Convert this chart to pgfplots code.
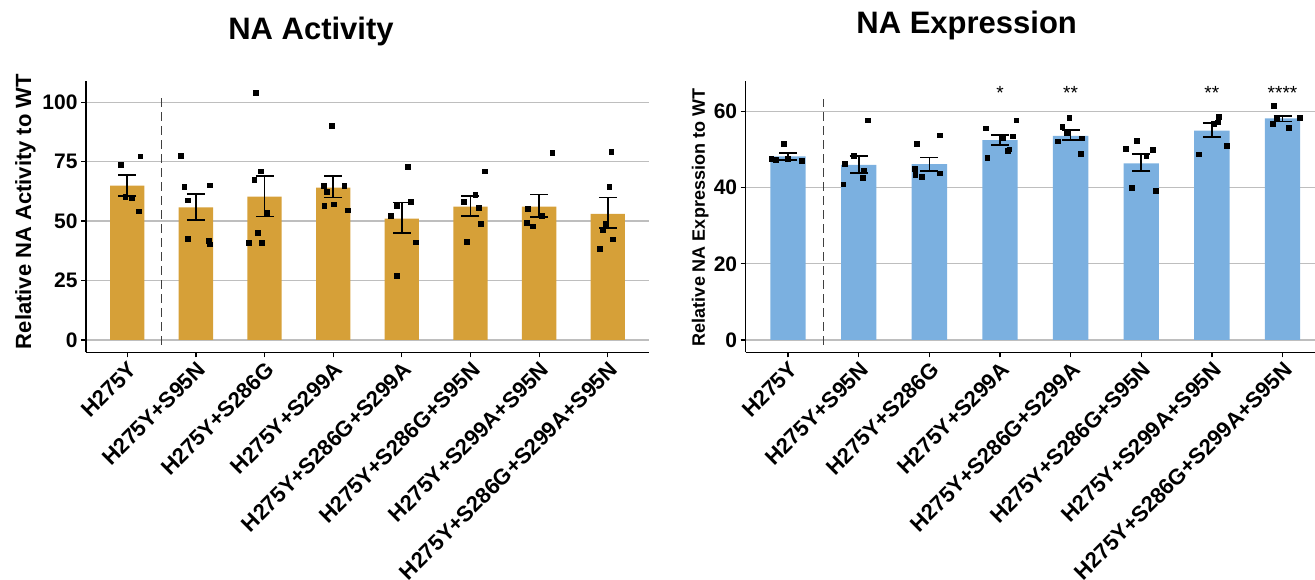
\documentclass[border=0pt]{standalone}
\usepackage{fontspec}
\setmainfont{Liberation Sans}
\usepackage{pgfplots}
\pgfplotsset{compat=1.18}
\definecolor{gold}{RGB}{214,160,56}
\definecolor{skyb}{RGB}{123,176,224}
\definecolor{gridc}{RGB}{190,190,190}
\pgfplotsset{
  myax/.style={
    scale only axis,
    height=271.6pt,
    xmin=-0.6, xmax=7.6,
    axis lines*=left,
    axis line style={line width=1.4pt, black},
    tick align=outside,
    major tick length=5pt,
    tick style={line width=1.3pt, black},
    ymajorgrids,
    major grid style={line width=1.4pt, gridc},
    xtick={0,...,7},
    xticklabels={H275Y, H275Y+S95N, H275Y+S286G, H275Y+S299A, H275Y+S286G+S299A, H275Y+S286G+S95N, H275Y+S299A+S95N, H275Y+S286G+S299A+S95N},
    xticklabel style={rotate=45, anchor=north east, font=\bfseries\fontsize{22}{22}\selectfont, inner sep=2pt},
    yticklabel style={font=\bfseries\fontsize{21}{21}\selectfont},
    /pgf/number format/assume math mode=true,
    clip=false,
  },
  bars/.style={ybar, bar width=0.5, draw=none, fill=#1, bar shift=0pt},
  errs/.style={draw=none, mark=none, forget plot, error bars/.cd, y dir=both, y explicit, error mark=-, error bar style={line width=1.7pt, draw=black, solid}, error mark options={rotate=90, line width=1.7pt, mark size=9pt, draw=black, solid}},
  pts/.style={only marks, mark=square*, mark size=2.4pt, black, mark options={fill=black, draw=none}},
  sep/.style={line width=1.3pt, color=black!75, dash pattern=on 9pt off 5pt},
}
\begin{document}
\begin{tikzpicture}[x=1pt,y=1pt]
\useasboundingbox (0,0) rectangle (1315,580);
\node[anchor=base, inner sep=0] at (311,540) {\bfseries\fontsize{31}{31}\selectfont NA Activity};
\node[anchor=base, inner sep=0] at (966.7,546.7) {\bfseries\fontsize{31}{31}\selectfont NA Expression};
\node[rotate=90, anchor=north, inner sep=0] at (15,368.5) {\bfseries\fontsize{22}{22}\selectfont Relative NA Activity to WT};
\node[rotate=90, anchor=north, inner sep=0] at (691.7,362.5) {\bfseries\fontsize{18}{18}\selectfont Relative NA Expression to WT};
\begin{axis}[myax, at={(86pt,227.7pt)}, anchor=south west, width=563pt,
  ymin=-5.2, ymax=109.1, ytick={0,25,50,75,100}]
\addplot[bars=gold] coordinates {(0,64.9) (1,55.8) (2,60.3) (3,64.1) (4,51.1) (5,56.1) (6,56.1) (7,53.0)};
\addplot[sep] coordinates {(0.5,-2.1) (0.5,102.4)};
\addplot[errs] coordinates {
 (0,64.9) += (0,4.6) -= (0,4.3)
 (1,55.8) += (0,5.5) -= (0,5.4)
 (2,60.3) += (0,8.7) -= (0,8.3)
 (3,64.1) += (0,4.8) -= (0,4.2)
 (4,51.1) += (0,6.7) -= (0,6.0)
 (5,56.1) += (0,4.5) -= (0,3.9)
 (6,56.1) += (0,5.1) -= (0,4.3)
 (7,53.0) += (0,6.9) -= (0,6.0)};
\addplot[pts] coordinates {
 (-0.09,73.9) (0.19,77.3) (-0.03,60.3) (0.07,59.8) (0.17,54.2)
 (0.78,77.5) (0.83,64.5) (0.88,58.8) (1.2,65.1) (0.88,42.6) (1.19,41.9) (1.2,40.3)
 (1.87,104.1) (1.85,67.5) (1.95,71.0) (2.03,53.6) (1.77,40.8) (1.9,45.2) (1.96,40.8)
 (2.98,90.1) (2.86,65.0) (2.9,62.5) (3.16,65.0) (2.87,56.6) (3.01,57.1) (3.21,54.6)
 (4.08,72.9) (4.13,58.3) (3.92,56.6) (3.84,52.2) (4.2,41.1) (3.92,27.2)
 (5.21,71.0) (5.07,61.2) (4.9,58.3) (5.12,55.8) (5.15,48.8) (4.94,41.5)
 (6.19,78.9) (5.83,55.2) (6.04,52.4) (5.82,49.4) (5.91,47.9)
 (7.05,79.3) (7.02,64.5) (6.97,49.0) (6.93,46.5) (7.07,42.4) (6.88,38.3)};
\end{axis}
\begin{axis}[myax, at={(745.7pt,227.7pt)}, anchor=south west, width=579.2pt,
  ymin=-3.25, ymax=68.1, ytick={0,20,40,60}]
\addplot[bars=skyb] coordinates {(0,48.2) (1,46.0) (2,46.2) (3,52.5) (4,53.6) (5,46.4) (6,55.0) (7,58.2)};
\addplot[sep] coordinates {(0.5,-1.3) (0.5,63.3)};
\addplot[errs] coordinates {
 (0,48.2) += (0,0.9) -= (0,0.9)
 (1,46.0) += (0,2.3) -= (0,2.1)
 (2,46.2) += (0,1.7) -= (0,1.8)
 (3,52.5) += (0,1.3) -= (0,1.3)
 (4,53.6) += (0,1.5) -= (0,1.1)
 (5,46.4) += (0,2.5) -= (0,2.0)
 (6,55.0) += (0,1.9) -= (0,1.7)
 (7,58.2) += (0,0.7) -= (0,0.8)};
\addplot[pts] coordinates {
 (-0.06,51.6) (-0.24,47.7) (-0.17,47.3) (0.0,47.7) (0.19,47.1)
 (1.13,57.7) (0.93,48.4) (0.8,46.3) (1.07,44.4) (1.06,42.7) (0.78,40.9)
 (2.15,53.8) (1.82,51.6) (1.79,44.9) (1.8,43.3) (1.89,42.9) (2.15,43.8)
 (2.8,55.6) (2.82,47.8) (3.23,57.7) (3.18,53.5) (3.04,53.1) (3.13,50.1) (3.11,49.7)
 (3.98,58.4) (3.88,56.1) (3.94,54.5) (3.82,52.2) (4.16,53.0) (4.14,48.9)
 (4.93,52.3) (4.78,50.2) (5.16,49.9) (5.07,48.5) (4.87,40.0) (5.21,39.1)
 (6.1,58.7) (6.08,57.2) (6.02,56.7) (6.21,51.1) (5.81,48.8)
 (6.87,61.5) (6.92,58.2) (6.86,56.8) (7.24,58.3) (7.09,55.7)};
\node[anchor=base, inner sep=0] at (axis cs:3,63.2) {\fontsize{19}{19}\selectfont *};
\node[anchor=base, inner sep=0] at (axis cs:4,63.2) {\fontsize{19}{19}\selectfont **};
\node[anchor=base, inner sep=0] at (axis cs:6,63.2) {\fontsize{19}{19}\selectfont **};
\node[anchor=base, inner sep=0] at (axis cs:7,63.2) {\fontsize{19}{19}\selectfont ****};
\end{axis}
\end{tikzpicture}
\end{document}
